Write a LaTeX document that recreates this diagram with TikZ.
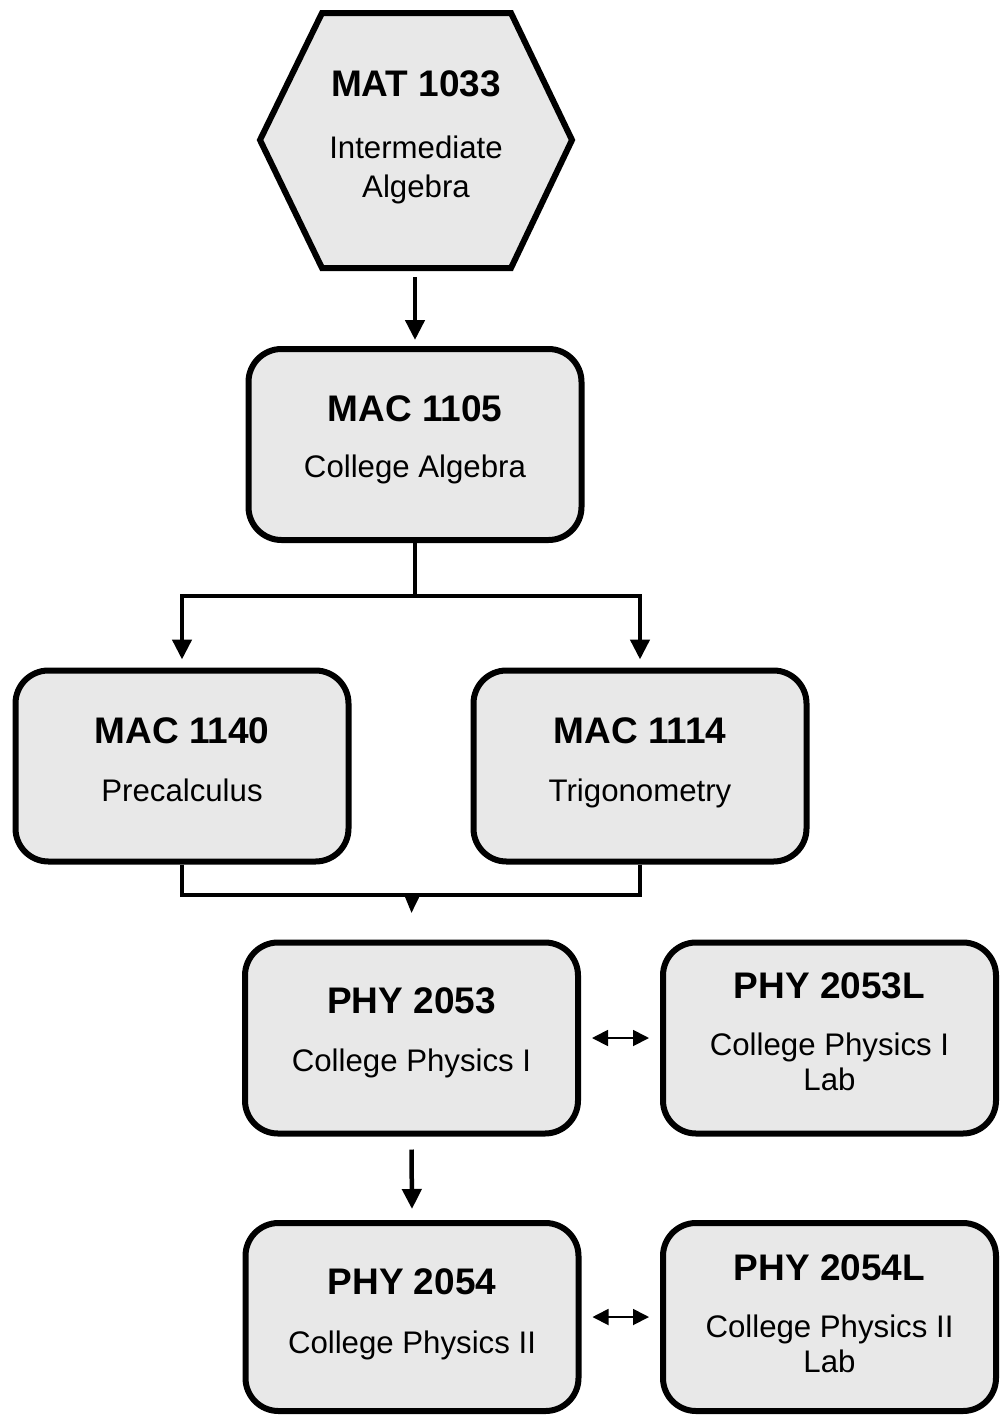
\documentclass[tikz,border=0pt]{standalone}
\usepackage{fontspec}
\setmainfont{Liberation Sans}
\usetikzlibrary{arrows.meta}
\definecolor{boxgray}{RGB}{232,232,232}
\begin{document}
\begin{tikzpicture}[x=1pt,y=-1pt,
  course/.style={draw=black, line width=6pt, fill=boxgray, rounded corners=33pt,
    minimum width=333pt, minimum height=191pt, inner sep=0pt},
  hexstyle/.style={draw=black, line width=6pt, fill=boxgray, line join=miter},
  ctitle/.style={anchor=base, inner sep=0pt, font=\fontsize{37}{42}\selectfont\bfseries},
  csub/.style={anchor=base, inner sep=0pt, font=\fontsize{31.2}{38}\selectfont},
  conn/.style={line width=4.5pt, line join=miter},
  arr/.style={conn, -{Triangle[length=20pt,width=19pt]}},
  dbl/.style={line width=1.8pt, {Triangle[length=16pt,width=16pt]}-{Triangle[length=16pt,width=16pt]}}
]
\useasboundingbox (0,0) rectangle (1001,1416);

% hexagon
\draw[hexstyle] (322,13) -- (511,13) -- (572,140) -- (511,268) -- (322,268) -- (260,140) -- cycle;
\coordinate (hexbot) at (415,268);
\node[ctitle] (t1033) at (416,96) {MAT 1033};
\node[csub] (s1033a) at (416,158) {Intermediate};
\node[csub] (s1033b) at (416,197) {Algebra};

% boxes
\node[course] (b1105) at (415,444.5) {};
\node[course] (b1140) at (182,766) {};
\node[course] (b1114) at (640,766) {};
\node[course] (b2053) at (411.5,1038) {};
\node[course] (b2053L) at (829.5,1038) {};
\node[course, minimum height=188pt] (b2054) at (412,1317) {};
\node[course, minimum height=188pt] (b2054L) at (829.5,1317) {};

% texts
\node[ctitle] (t1105) at (415,421) {MAC 1105};
\node[csub] (s1105) at (415,477) {College Algebra};
\node[ctitle] (t1140) at (182,743) {MAC 1140};
\node[csub] (s1140) at (182,801) {Precalculus};
\node[ctitle] (t1114) at (640,743) {MAC 1114};
\node[csub] (s1114) at (640,801) {Trigonometry};
\node[ctitle] (t2053) at (411.5,1013) {PHY 2053};
\node[csub] (s2053) at (411.5,1071) {College Physics I};
\node[ctitle] (t2053L) at (829.5,998) {PHY 2053L};
\node[csub] (s2053La) at (829.5,1055) {College Physics I};
\node[csub] (s2053Lb) at (829.5,1090) {Lab};
\node[ctitle] (t2054) at (412,1294) {PHY 2054};
\node[csub] (s2054) at (412,1353) {College Physics II};
\node[ctitle] (t2054L) at (829.5,1280) {PHY 2054L};
\node[csub] (s2054La) at (829.5,1337) {College Physics II};
\node[csub] (s2054Lb) at (829.5,1372) {Lab};

% connectors
\draw[arr] ([yshift=-9pt]hexbot) -- ([yshift=6pt]b1105.north);

\coordinate (split) at (415,596);
\draw[conn] (b1105.south) -- (split);
\draw[arr] (split) -| ([yshift=8pt]b1140.north);
\draw[arr] (split) -| ([yshift=8pt]b1114.north);

\coordinate (merge) at (412,895);
\draw[conn] (b1140.south) |- (merge);
\draw[conn] (b1114.south) |- (merge);
\draw[line width=4.5pt, -{Triangle[length=18pt,width=14pt]}] ([yshift=-3pt]merge) -- ([yshift=26pt]b2053.north);

\draw[arr] ([yshift=-13pt]b2053.south) -- ([yshift=11pt]b2054.north);

\draw[dbl] ([xshift=11pt]b2053.east) -- ([xshift=-11pt]b2053L.west);
\draw[dbl] ([xshift=11pt]b2054.east) -- ([xshift=-11pt]b2054L.west);
\end{tikzpicture}
\end{document}
